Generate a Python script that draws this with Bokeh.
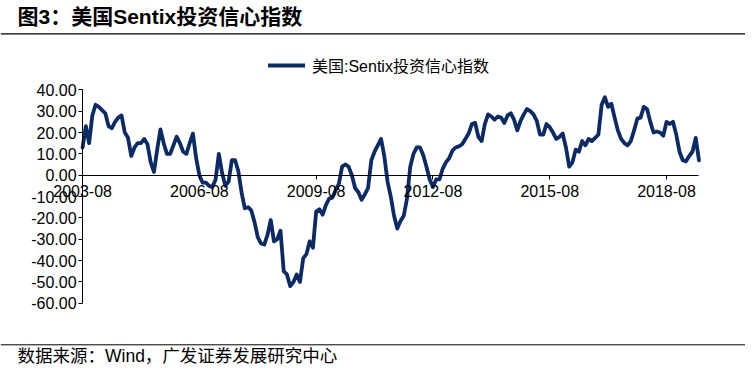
import pandas as pd
from bokeh.plotting import figure
from bokeh.models import (Range1d, FixedTicker, Label, Span, Legend, LegendItem,
                          PrintfTickFormatter)
from bokeh.core.properties import value
from bokeh.embed import file_html
from bokeh.resources import INLINE

# ---------------- data ----------------
months = [d.strftime("%Y-%m") for d in pd.date_range("2003-08-01", "2019-06-01", freq="MS")]
sentix = [
    13, 23, 15, 28, 33, 32, 30.5, 29, 23, 22,
    25, 27, 28, 20, 17.5, 9, 13, 15, 15, 17,
    14.5, 6, 1.5, 12, 21.5, 15, 10, 10, 14, 18,
    15, 11, 10, 15, 19.5, 8, 0, -3.5, -3.5, -5,
    -5.5, -2, 10, 1, -5, -3, 7, 7, 2, -8,
    -15.5, -15, -16.5, -22, -29, -32, -32.5, -28, -21, -31,
    -30, -26, -45, -46.5, -52, -50, -46.5, -50, -39, -37,
    -31, -34, -17, -16, -18.5, -14, -11, -10.5, -7, -4,
    4, 5, 4, 0, -6, -8, -11.5, -9, -6, 7,
    11, 14, 17, 9, -3, -10, -19, -25, -21.5, -19,
    -11, 4, 10, 13, 13, 9.5, 4, -2, -5.5, -2,
    -2, 3, 6, 8, 11.5, 13, 13.5, 14.5, 17, 19.5,
    24, 24.5, 18, 16, 24, 28.5, 27.5, 26, 27.5, 27,
    24.5, 28, 29, 26, 21, 25.5, 28.5, 31, 30, 28.5,
    25.5, 19, 19, 24, 22.5, 20, 17, 18, 19.5, 13,
    4, 6, 12, 11, 16, 14, 17, 16, 17.5, 19,
    33, 36.5, 32, 33.5, 27, 21, 17, 15, 14, 16,
    21, 26.5, 27, 32, 31, 25, 20, 20.5, 20, 18.5,
    25, 24, 25, 19, 11, 7, 6.5, 9, 11, 17.5, 7,
]
tick_labels = ["2003-08", "2006-08", "2009-08", "2012-08", "2015-08", "2018-08"]
y_ticks = [40, 30, 20, 10, 0, -10, -20, -30, -40, -50, -60]
series_name = "美国:Sentix投资信心指数"
title_text = "图3：美国Sentix投资信心指数"
source_text = "数据来源：Wind，广发证券发展研究中心"

# ---------------- layout helpers ----------------
W, H = 745, 365
PAGE_X, PAGE_Y = 0, 0             # observed canvas offset in the picture
X0_PX, X_STEP = 82.1, 3.244       # picture px of first month, px per month
Y0_PX, Y_STEP = 174.7, 2.134      # picture px of value 0, px per unit


def px_x(px):
    return (px - X0_PX) / X_STEP


def px_y(py):
    return (Y0_PX - py) / Y_STEP


LINE_COLOR = "#0C2A66"
FONT = "Liberation Sans, Noto Sans CJK SC"

p = figure(width=W, height=H, output_backend="svg", toolbar_location=None,
           x_range=Range1d(px_x(PAGE_X), px_x(PAGE_X + W)),
           y_range=Range1d(px_y(PAGE_Y + H), px_y(PAGE_Y)),
           min_border=0, min_border_left=0, min_border_right=0,
           min_border_top=0, min_border_bottom=0)
p.outline_line_color = None
p.grid.visible = False
p.background_fill_color = "white"
p.border_fill_color = "white"

x = list(range(len(months)))
r = p.line(x, sentix, line_color=LINE_COLOR, line_width=3.8, line_join="round",
           line_cap="round")

# axes
xa = p.xaxis[0]
xa.fixed_location = 0
xa.bounds = (0, len(months) - 1)
xa.ticker = FixedTicker(ticks=[months.index(t) for t in tick_labels])
xa.major_label_overrides = {months.index(t): t for t in tick_labels}
xa.minor_tick_line_color = None
xa.major_tick_in = 0
xa.major_tick_out = 4
xa.major_label_standoff = 6
xa.major_label_text_font = FONT
xa.major_label_text_font_size = "16px"
xa.major_label_text_color = "black"
xa.axis_line_color = "black"
xa.major_tick_line_color = "black"

ya = p.yaxis[0]
ya.fixed_location = 0
ya.bounds = (min(y_ticks), max(y_ticks))
ya.ticker = FixedTicker(ticks=y_ticks)
ya.formatter = PrintfTickFormatter(format="%.2f")
ya.minor_tick_line_color = None
ya.major_tick_in = 0
ya.major_tick_out = 4
ya.major_label_standoff = 2
ya.major_label_text_font = FONT
ya.major_label_text_font_size = "16px"
ya.major_label_text_color = "black"
ya.axis_line_color = "black"
ya.major_tick_line_color = "black"

# legend (location: bottom-left corner, screen px from the frame's bottom-left)
legend = Legend(items=[LegendItem(label=value(series_name), renderers=[r])],
                location=(268 - PAGE_X, PAGE_Y + H - 69 - 8), orientation="horizontal",
                glyph_width=37, glyph_height=16, label_height=16,
                label_standoff=7, padding=0, margin=0, spacing=0,
                border_line_alpha=0, background_fill_alpha=0,
                label_text_font=FONT, label_text_font_size="16px",
                label_text_color="black")
p.add_layout(legend)

# title, separators, source
p.add_layout(Label(x=px_x(17), y=px_y(16), text=title_text,
                   text_font=FONT, text_font_size="21px", text_font_style="bold",
                   text_baseline="middle", text_align="left", text_color="black"))
p.add_layout(Span(location=px_y(33.3), dimension="width", line_color="black",
                  line_width=1.3))
p.add_layout(Span(location=px_y(344.3), dimension="width", line_color="black",
                  line_width=1))
p.add_layout(Label(x=px_x(17), y=px_y(355.5), text=source_text,
                   text_font=FONT, text_font_size="17.5px",
                   text_baseline="middle", text_align="left", text_color="black"))

open("out.html", "w").write(file_html(p, INLINE))
